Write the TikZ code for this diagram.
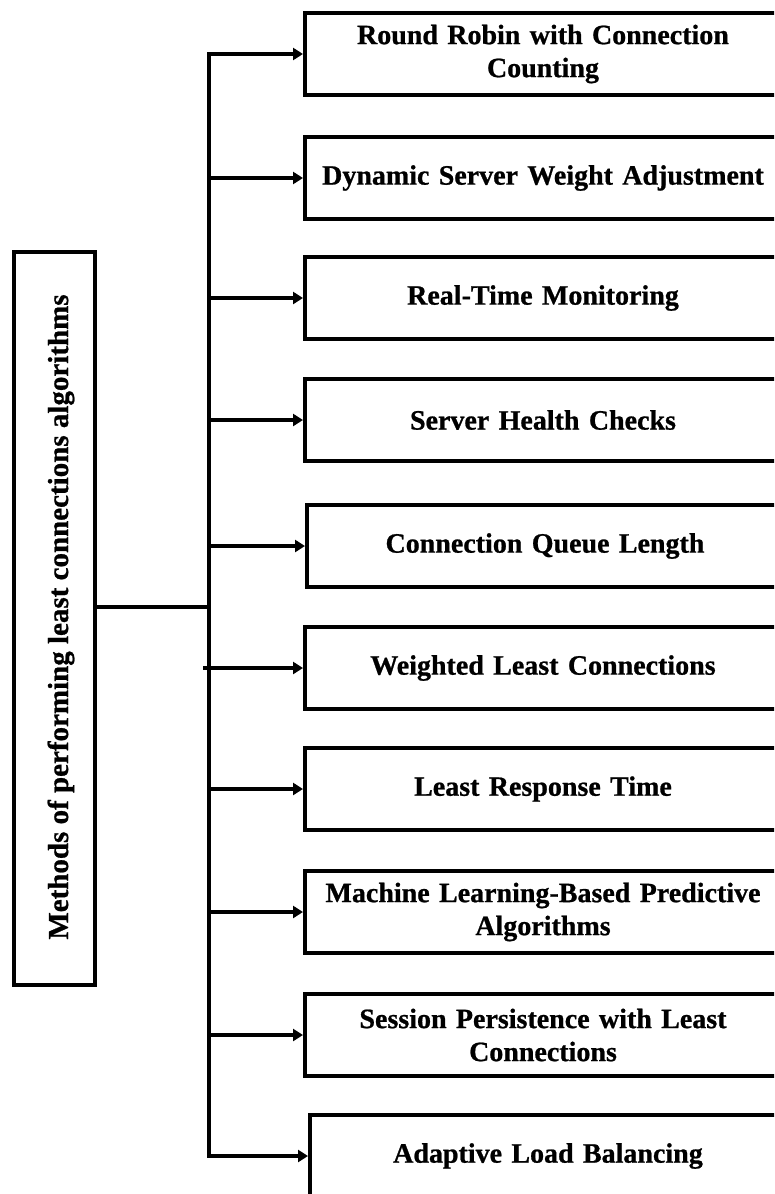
\documentclass[tikz,border=0pt]{standalone}
\usepackage{fontspec}
\setmainfont{Liberation Serif}[BoldFeatures={FakeBold=0.8}]
\usetikzlibrary{arrows.meta}
\begin{document}
\begin{tikzpicture}[x=1pt,y=-1pt,
  method/.style={draw, line width=4pt, minimum width=476pt, minimum height=82pt,
    inner sep=0pt, align=center, font=\fontsize{28}{33}\selectfont\bfseries, text width=470pt},
  rootbox/.style={draw, line width=4pt, minimum width=81pt, minimum height=733pt, inner sep=0pt},
  link/.style={line width=4pt},
  feed/.style={line width=4pt, -{Triangle[length=10pt,width=12pt]}}]
\useasboundingbox (0,0) rectangle (774,1194);
\clip (0,0) rectangle (774,1194);

% root box with the rotated title
\node[rootbox] (root) at (54.5,618.5) {};
\node[rotate=90, font=\fontsize{29}{32}\selectfont\bfseries] (title) at (61,617)
  {Methods of performing least connections algorithms};

% method boxes
\node[method] (m1)  at (543,54)   {Round Robin with Connection\\Counting};
\node[method] (m2)  at (543,178)  {Dynamic Server Weight Adjustment};
\node[method] (m3)  at (543,298)  {Real-Time Monitoring};
\node[method] (m4)  at (543,420)  {Server Health Checks};
\node[method] (m5)  at (545,546)  {Connection Queue Length};
\node[method] (m6)  at (543,668)  {Weighted Least Connections};
\node[method] (m7)  at (543,789)  {Least Response Time};
\node[method] (m8)  at (543,912)  {Machine Learning-Based Predictive\\Algorithms};
\node[method] (m9)  at (543,1035) {Session Persistence with Least\\Connections};
\node[method] (m10) at (548,1156) {Adaptive Load Balancing};

% trunk and root link
\coordinate (trunktop) at (209,54);
\coordinate (trunkbot) at (209,1156);
\coordinate (junction) at (209,607);
\draw[link] ([yshift=-2pt]trunktop) -- ([yshift=2pt]trunkbot);
\draw[link] (root.east |- junction) -- (junction);

% branches
\foreach \m in {m1,m2,m3,m4,m5,m7,m8,m9,m10}
  \draw[feed] ([xshift=-2pt]trunktop |- \m.west) -- (\m.west);
\draw[feed] ([xshift=-6pt]trunktop |- m6.west) -- (m6.west);
\end{tikzpicture}
\end{document}
